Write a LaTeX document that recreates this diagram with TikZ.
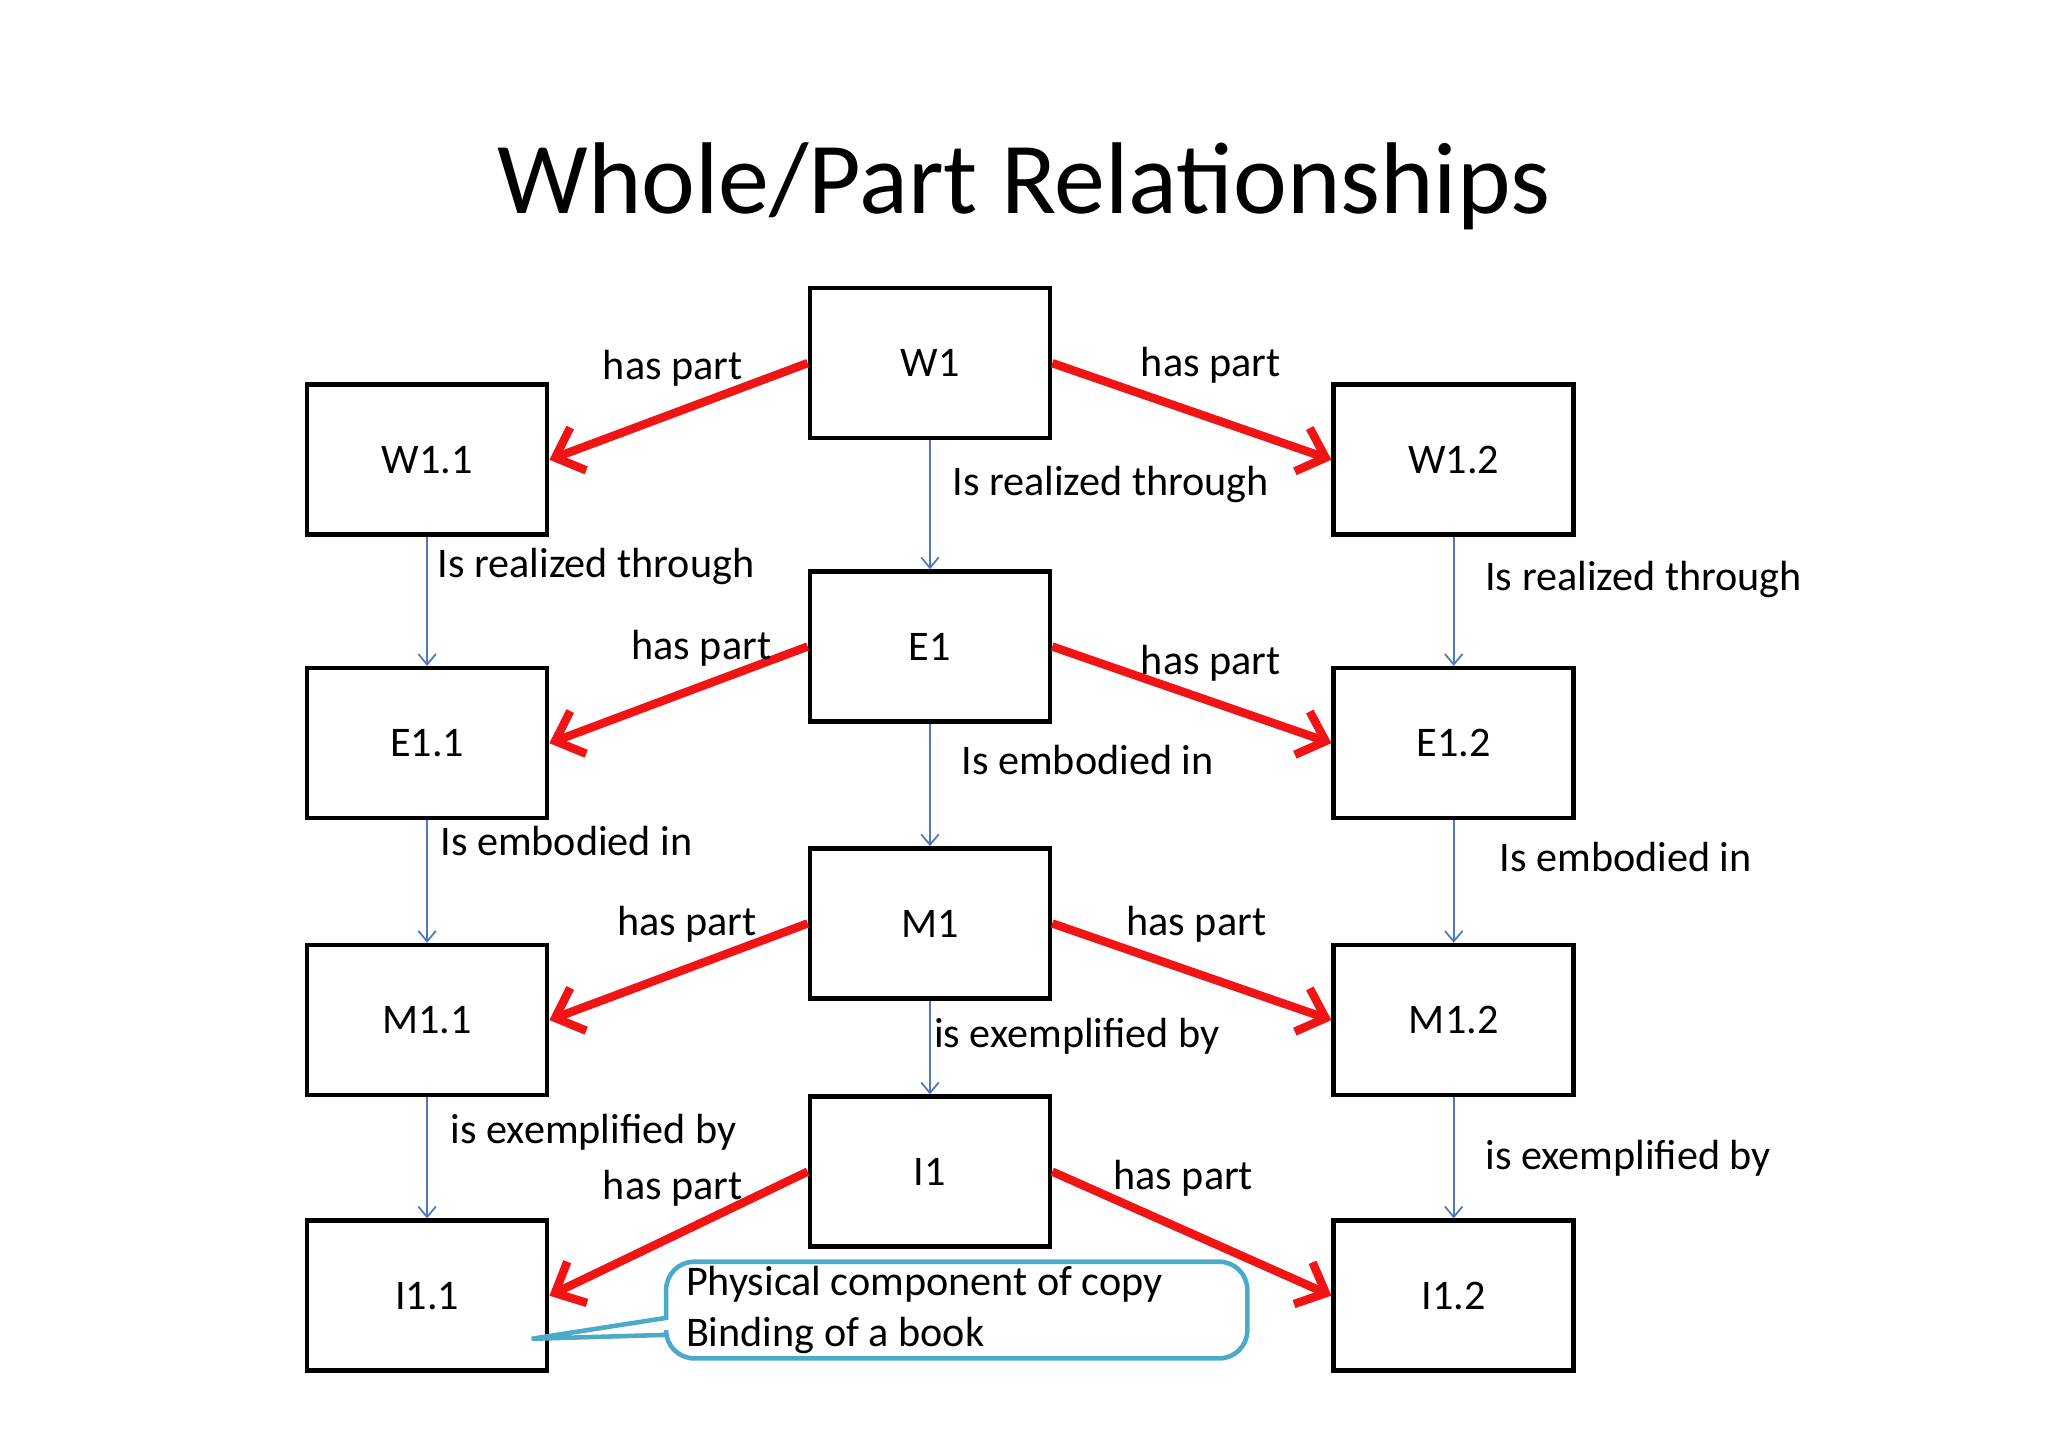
\documentclass[tikz,border=0pt]{standalone}
\usepackage{fontspec}
\setmainfont{Carlito}
\usetikzlibrary{positioning}
\usetikzlibrary{arrows.meta}
\definecolor{partred}{RGB}{240,20,20}
\definecolor{relblue}{RGB}{80,120,190}
\definecolor{callblue}{RGB}{75,170,200}
\begin{document}
\begin{tikzpicture}[x=0.01306cm, y=-0.01306cm,
    box/.style = {draw, line width=1.3pt, minimum width=2.4cm, minimum height=1.5cm, font=\fontsize{12}{14}\selectfont},
    part/.style = {draw=partred, line width=2.4pt, -{Straight Barb[length=7pt,width=13pt]}},
    rel/.style = {draw=relblue, line width=0.5pt, -{Straight Barb[length=3pt,width=5pt]}},
    lbl/.style = {font=\fontsize{12}{14.5}\selectfont, inner sep=1pt}]
    \useasboundingbox (0,0) rectangle (1568,1109);
    \node[font=\fontsize{29}{34}\selectfont] (title) at (784,143) {Whole/Part Relationships};

    \node[box] (W1) at (712,278) {W1};
    \node[box] (W11) at (327,352) {W1.1};
    \node[box] (W12) at (1113,352) {W1.2};
    \node[box] (E1) at (712,495) {E1};
    \node[box] (E11) at (327,569) {E1.1};
    \node[box] (E12) at (1113,569) {E1.2};
    \node[box] (M1) at (712,707) {M1};
    \node[box] (M11) at (327,781) {M1.1};
    \node[box] (M12) at (1113,781) {M1.2};
    \node[box] (I1) at (712,897) {I1};
    \node[box] (I11) at (327,992) {I1.1};
    \node[box] (I12) at (1113,992) {I1.2};

    % has part
    \draw[part] (W1.west) -- (W11.east);
    \draw[part] (W1.east) -- (W12.west);
    \draw[part] (E1.west) -- (E11.east);
    \draw[part] (E1.east) -- (E12.west);
    \draw[part] (M1.west) -- (M11.east);
    \draw[part] (M1.east) -- (M12.west);
    \draw[part] (I1.west) -- (I11.east);
    \draw[part] (I1.east) -- (I12.west);
    \node[lbl] (hp1) at (515,282) {has part};
    \node[lbl] (hp2) at (927,280) {has part};
    \node[lbl] (hp3) at (537,496) {has part};
    \node[lbl] (hp4) at (927,508) {has part};
    \node[lbl] (hp5) at (526,708) {has part};
    \node[lbl] (hp6) at (916,708) {has part};
    \node[lbl] (hp7) at (515,910) {has part};
    \node[lbl] (hp8) at (906,902) {has part};

    % relations
    \draw[rel] (W1) -- (E1);
    \draw[rel] (W11) -- (E11);
    \draw[rel] (W12) -- (E12);
    \draw[rel] (E1) -- (M1);
    \draw[rel] (E11) -- (M11);
    \draw[rel] (E12) -- (M12);
    \draw[rel] (M1) -- (I1);
    \draw[rel] (M11) -- (I11);
    \draw[rel] (M12) -- (I12);
    \node[lbl, anchor=west] (r1) at (726,371) {Is realized through};
    \node[lbl, anchor=west] (r2) at (332,434) {Is realized through};
    \node[lbl, anchor=west] (r3) at (1134,444) {Is realized through};
    \node[lbl, anchor=west] (r4) at (733,582) {Is embodied in};
    \node[lbl, anchor=west] (r5) at (334,644) {Is embodied in};
    \node[lbl, anchor=west] (r6) at (1145,656) {Is embodied in};
    \node[lbl, anchor=west] (r7) at (712,793) {is exemplified by};
    \node[lbl, anchor=west] (r8) at (342,867) {is exemplified by};
    \node[lbl, anchor=west] (r9) at (1134,887) {is exemplified by};

    % callout
    \coordinate (tip) at (407,1025);
    \draw[callblue, line width=1.3pt, fill=white]
        (tip) -- (510,1009) [rounded corners=8pt] -- (510,966) -- (955,966)
        -- (955,1040) -- (510,1040) [sharp corners] -- (510,1022) -- cycle;
    \node[lbl, anchor=north west, align=left] (note) at (522,966)
        {Physical component of copy\\Binding of a book};
\end{tikzpicture}
\end{document}
